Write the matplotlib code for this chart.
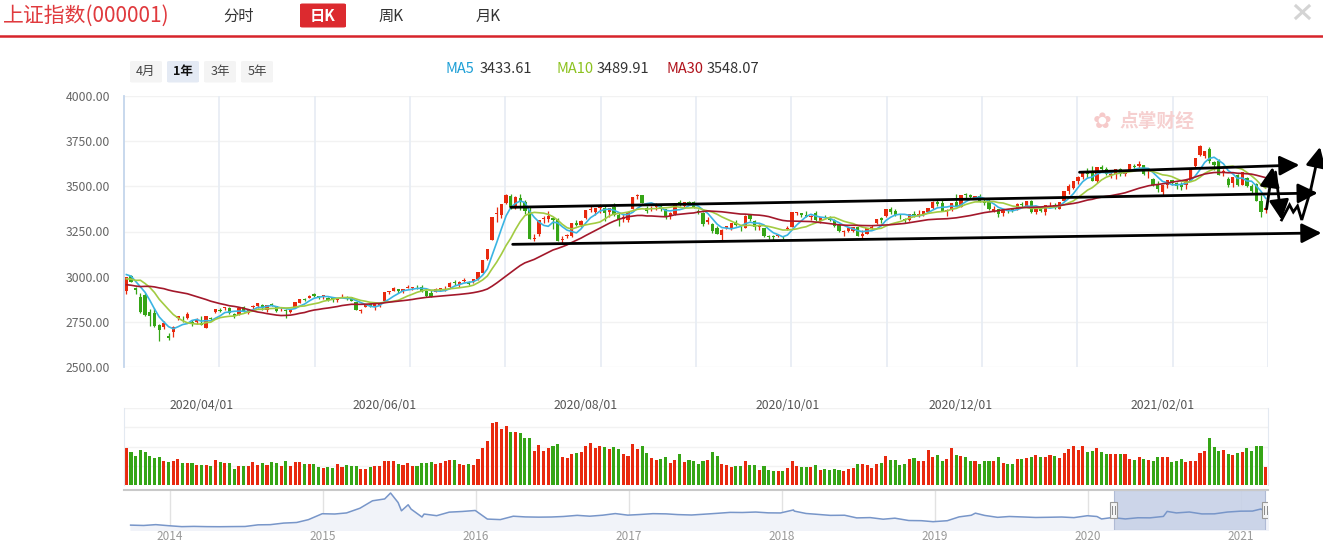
import numpy as np
import pandas as pd
import matplotlib
matplotlib.use("Agg")
import matplotlib.pyplot as plt
from matplotlib.patches import FancyBboxPatch, Rectangle
from matplotlib.transforms import blended_transform_factory

# ---------------- data ----------------
# trading days per month in the 1-year window (2020-03-10 .. 2021-03-10)
month_labels = ["2020/03/01", "2020/04/01", "2020/05/01", "2020/06/01", "2020/07/01", "2020/08/01",
                "2020/09/01", "2020/10/01", "2020/11/01", "2020/12/01", "2021/01/01", "2021/02/01", "2021/03/01"]
month_days = [16, 21, 18, 20, 23, 21, 22, 16, 21, 23, 20, 15, 8]

# closes before the window, only used to warm up the moving averages
prior_closes = [3052.14, 3060.75, 2976.53, 2746.61, 2783.29, 2818.09, 2866.51, 2875.96, 2890.49, 2901.67,
                2926.90, 2906.07, 2917.01, 2983.62, 2984.97, 2975.40, 3030.15, 3039.67, 3031.23, 3013.05,
                2987.93, 2991.33, 2880.30, 2970.93, 2992.90, 3011.67, 3071.68, 3034.51, 2943.29]

closes = [
    2996.76, 2968.52, 2923.49, 2887.43, 2789.25, 2779.64, 2728.76, 2702.13, 2745.62, 2660.17, 2722.44, 2781.59, 2764.91, 2772.20, 2747.21, 2750.30,
    2734.52, 2780.64, 2763.99, 2820.76, 2815.37, 2825.90, 2796.63, 2783.05, 2827.28, 2811.17, 2819.94, 2838.49, 2852.55, 2827.01, 2843.98, 2838.50, 2808.53, 2815.49, 2810.02, 2822.44, 2860.08,
    2878.14, 2871.52, 2895.34, 2894.80, 2891.56, 2898.05, 2870.34, 2868.46, 2875.42, 2898.58, 2883.74, 2867.92, 2813.77, 2817.97, 2846.55, 2836.80, 2846.22, 2852.35,
    2915.43, 2921.40, 2923.37, 2919.25, 2930.80, 2937.77, 2943.75, 2943.32, 2920.90, 2919.74, 2890.03, 2931.75, 2935.87, 2939.32, 2967.63, 2965.27, 2970.62, 2979.55, 2961.52, 2984.67,
    3025.98, 3090.57, 3152.81, 3332.88, 3345.34, 3403.44, 3450.59, 3383.32, 3443.29, 3414.62, 3361.30, 3210.10, 3214.13, 3314.15, 3320.90, 3333.16, 3325.11, 3196.77, 3205.23, 3227.96, 3294.55, 3286.82, 3310.01,
    3367.97, 3371.69, 3377.56, 3386.46, 3354.04, 3379.25, 3340.29, 3319.27, 3320.73, 3360.10, 3438.80, 3451.09, 3408.13, 3363.90, 3380.68, 3385.64, 3373.58, 3329.74, 3350.11, 3403.81, 3395.68,
    3410.61, 3404.80, 3384.98, 3355.37, 3292.59, 3316.42, 3254.63, 3234.82, 3260.35, 3278.81, 3295.68, 3283.92, 3270.44, 3338.09, 3316.94, 3274.30, 3279.71, 3223.18, 3219.42, 3217.53, 3224.36, 3218.05,
    3272.08, 3358.47, 3359.75, 3340.16, 3332.18, 3336.36, 3312.50, 3328.10, 3325.03, 3312.49, 3278.00, 3251.12, 3254.32, 3269.24, 3272.74, 3224.53,
    3225.12, 3271.07, 3277.44, 3320.13, 3312.16, 3373.73, 3360.15, 3342.20, 3338.68, 3310.10, 3346.97, 3339.90, 3347.30, 3363.09, 3377.73, 3414.49, 3402.82, 3362.33, 3369.73, 3408.31, 3391.76,
    3451.94, 3449.38, 3442.14, 3444.58, 3416.60, 3410.18, 3371.96, 3373.28, 3347.19, 3369.12, 3367.23, 3366.98, 3404.87, 3394.90, 3420.57, 3356.78, 3382.32, 3363.11, 3396.56, 3397.29, 3379.04, 3414.45, 3473.07,
    3502.96, 3528.68, 3550.88, 3576.20, 3570.11, 3531.50, 3608.34, 3598.65, 3565.90, 3566.38, 3596.22, 3566.12, 3583.09, 3621.26, 3606.75, 3624.24, 3569.43, 3573.34, 3505.18, 3483.07,
    3505.28, 3533.68, 3517.31, 3501.86, 3496.33, 3532.44, 3603.49, 3655.09, 3675.36, 3696.17, 3642.44, 3636.36, 3564.08, 3585.05, 3509.08,
    3551.40, 3508.59, 3576.91, 3503.49, 3501.99, 3421.41, 3359.29, 3381.86,
]
opens = [
    2918, 3001, 2936, 2804, 2899, 2805, 2797, 2731, 2722, 2673, 2692, 2771, 2763, 2791, 2738, 2764,
    2743, 2718, 2771, 2806, 2810, 2830, 2826, 2794, 2790, 2831, 2800, 2834, 2838, 2843, 2815, 2848, 2835, 2815, 2818, 2807, 2830,
    2857, 2875, 2884, 2904, 2887, 2885, 2883, 2880, 2871, 2896, 2890, 2887, 2861, 2810, 2834, 2846, 2832, 2837,
    2867, 2913, 2936, 2929, 2918, 2942, 2935, 2945, 2943, 2894, 2911, 2915, 2933, 2935, 2944, 2969, 2955, 2977, 2972, 2970,
    2985, 3022, 3097, 3205, 3351, 3343, 3410, 3444, 3393, 3433, 3414, 3371, 3208, 3238, 3321, 3318, 3312, 3318, 3206, 3223, 3225, 3295, 3287,
    3322, 3371, 3358, 3381, 3379, 3359, 3388, 3342, 3331, 3313, 3373, 3444, 3450, 3379, 3376, 3389, 3393, 3372, 3337, 3346, 3412,
    3393, 3411, 3412, 3363, 3353, 3304, 3291, 3270, 3232, 3271, 3268, 3302, 3272, 3270, 3344, 3306, 3275, 3268, 3227, 3225, 3228, 3227,
    3262, 3276, 3355, 3353, 3342, 3332, 3352, 3309, 3333, 3321, 3316, 3284, 3248, 3253, 3254, 3276,
    3236, 3238, 3270, 3296, 3322, 3338, 3377, 3361, 3342, 3319, 3313, 3346, 3341, 3344, 3358, 3382, 3413, 3405, 3362, 3372, 3414,
    3388, 3458, 3450, 3433, 3448, 3417, 3414, 3362, 3374, 3351, 3363, 3373, 3370, 3403, 3393, 3420, 3356, 3384, 3358, 3398, 3399, 3375, 3419,
    3474, 3492, 3528, 3552, 3577, 3576, 3529, 3608, 3597, 3564, 3566, 3597, 3567, 3585, 3613, 3612, 3616, 3574, 3538, 3508,
    3470, 3509, 3535, 3519, 3506, 3505, 3532, 3610, 3721, 3668, 3706, 3616, 3640, 3581, 3539,
    3517, 3564, 3510, 3548, 3476, 3515, 3418, 3371,
]
highs = [
    2997, 3010, 2944, 2910, 2907, 2819, 2824, 2737, 2754, 2690, 2726, 2785, 2784, 2805, 2758, 2769,
    2781, 2782, 2779, 2821, 2825, 2831, 2833, 2797, 2827, 2837, 2819, 2844, 2853, 2846, 2844, 2853, 2838, 2829, 2819, 2823, 2862,
    2879, 2881, 2897, 2907, 2892, 2898, 2888, 2884, 2881, 2903, 2893, 2888, 2862, 2822, 2847, 2852, 2847, 2853,
    2917, 2922, 2942, 2931, 2933, 2953, 2945, 2952, 2952, 2928, 2924, 2935, 2939, 2946, 2968, 2980, 2976, 2990, 2977, 2988,
    3026, 3091, 3152, 3333, 3387, 3404, 3456, 3459, 3444, 3458, 3426, 3393, 3238, 3314, 3334, 3365, 3331, 3323, 3226, 3236, 3294, 3313, 3315,
    3368, 3391, 3378, 3404, 3390, 3379, 3407, 3353, 3346, 3360, 3439, 3455, 3453, 3391, 3391, 3408, 3404, 3377, 3357, 3404, 3425,
    3411, 3420, 3417, 3375, 3359, 3328, 3295, 3279, 3263, 3282, 3296, 3313, 3283, 3339, 3346, 3311, 3290, 3272, 3233, 3232, 3233, 3227,
    3280, 3359, 3360, 3353, 3363, 3343, 3363, 3329, 3341, 3335, 3320, 3291, 3257, 3270, 3276, 3277,
    3257, 3272, 3286, 3320, 3331, 3376, 3388, 3374, 3348, 3325, 3347, 3363, 3370, 3364, 3378, 3419, 3423, 3423, 3372, 3409, 3457,
    3452, 3465, 3457, 3447, 3459, 3428, 3428, 3390, 3376, 3370, 3372, 3377, 3406, 3411, 3421, 3426, 3384, 3386, 3397, 3413, 3407, 3414, 3474,
    3511, 3528, 3556, 3576, 3600, 3611, 3608, 3617, 3609, 3583, 3597, 3600, 3591, 3621, 3622, 3641, 3617, 3594, 3547, 3530,
    3506, 3534, 3536, 3525, 3522, 3533, 3603, 3656, 3731, 3698, 3715, 3640, 3651, 3595, 3549,
    3552, 3568, 3578, 3549, 3511, 3517, 3450, 3391,
]
lows = [
    2902, 2968, 2906, 2799, 2781, 2729, 2724, 2646, 2708, 2647, 2666, 2759, 2751, 2767, 2728, 2740,
    2734, 2716, 2753, 2799, 2802, 2815, 2791, 2773, 2788, 2807, 2793, 2817, 2828, 2816, 2807, 2835, 2805, 2809, 2769, 2797, 2826,
    2853, 2867, 2880, 2886, 2875, 2878, 2867, 2861, 2862, 2887, 2869, 2863, 2813, 2799, 2831, 2830, 2818, 2834,
    2866, 2903, 2920, 2910, 2910, 2935, 2928, 2933, 2916, 2889, 2889, 2913, 2922, 2922, 2938, 2952, 2942, 2970, 2954, 2967,
    2984, 3018, 3094, 3205, 3302, 3327, 3404, 3374, 3375, 3367, 3349, 3208, 3197, 3224, 3297, 3303, 3265, 3196, 3184, 3212, 3220, 3281, 3275,
    3318, 3358, 3340, 3355, 3307, 3330, 3335, 3283, 3305, 3305, 3372, 3431, 3408, 3353, 3362, 3370, 3365, 3321, 3321, 3342, 3391,
    3382, 3397, 3378, 3345, 3279, 3293, 3241, 3234, 3204, 3264, 3259, 3282, 3252, 3269, 3307, 3258, 3261, 3221, 3210, 3203, 3218, 3209,
    3258, 3275, 3340, 3331, 3328, 3313, 3310, 3295, 3322, 3307, 3275, 3245, 3225, 3245, 3245, 3223,
    3209, 3234, 3263, 3293, 3296, 3330, 3349, 3338, 3321, 3296, 3308, 3330, 3333, 3338, 3354, 3376, 3392, 3361, 3338, 3364, 3390,
    3388, 3437, 3435, 3428, 3413, 3399, 3371, 3360, 3328, 3336, 3353, 3358, 3367, 3387, 3386, 3351, 3345, 3356, 3344, 3386, 3376, 3374, 3419,
    3458, 3484, 3513, 3541, 3544, 3527, 3519, 3584, 3564, 3547, 3538, 3556, 3557, 3585, 3588, 3599, 3565, 3546, 3503, 3466,
    3444, 3493, 3505, 3488, 3482, 3483, 3532, 3607, 3666, 3659, 3628, 3589, 3564, 3558, 3496,
    3497, 3503, 3507, 3496, 3464, 3417, 3328, 3352,
]
# volume, read as bar heights (arbitrary units, panel top = 231)
volume = [
    111, 99, 87, 105, 99, 87, 81, 84, 72, 69, 72, 78, 66, 66, 66, 60,
    60, 60, 57, 75, 69, 66, 66, 48, 57, 57, 57, 69, 60, 66, 60, 69, 66, 57, 72, 57, 69,
    69, 63, 63, 63, 54, 51, 54, 51, 63, 54, 60, 57, 57, 48, 48, 54, 57, 57,
    72, 72, 72, 63, 60, 66, 57, 57, 66, 66, 69, 63, 66, 72, 75, 75, 63, 60, 63, 60,
    78, 111, 132, 186, 189, 168, 177, 159, 159, 156, 141, 141, 102, 120, 102, 111, 117, 123, 84, 81, 93, 96, 99,
    117, 126, 111, 117, 114, 108, 114, 108, 93, 87, 123, 108, 117, 97, 81, 75, 78, 84, 66, 75, 93,
    69, 75, 72, 63, 72, 75, 99, 87, 63, 60, 54, 57, 57, 72, 60, 60, 45, 57, 45, 42, 42, 42,
    51, 72, 57, 54, 54, 54, 60, 45, 48, 45, 48, 45, 42, 48, 51, 63,
    63, 60, 51, 63, 66, 87, 75, 75, 60, 63, 78, 81, 72, 72, 105, 84, 90, 72, 78, 111, 90,
    87, 84, 72, 72, 63, 72, 72, 72, 84, 66, 63, 63, 78, 78, 81, 84, 90, 84, 84, 90, 87, 81, 96,
    108, 117, 105, 117, 99, 102, 111, 99, 93, 93, 93, 93, 93, 78, 75, 84, 78, 75, 72, 84,
    84, 84, 69, 72, 78, 69, 72, 72, 96, 102, 141, 114, 102, 105, 93,
    90, 96, 99, 111, 102, 117, 117, 54,
]

ma_periods = [5, 10, 30]
ma_labels = ["MA5", "MA10", "MA30"]

# hand drawn trend lines: (bar index, price) start -> end
trend_lines = [((82.0, 3384), (254.1, 3463)),
               ((82.4, 3179), (254.9, 3242)),
               ((203.3, 3578), (250.2, 3618))]
zig_arrows = [((243.2, 3375), (244.5, 3607)),
              ((245.1, 3579), (246.4, 3314))]
zig_path_x = [246.4, 248.1, 248.9, 249.8, 250.7, 252.6, 254.6]
zig_path_y = [3314, 3397, 3358, 3391, 3314, 3480, 3718]

# navigator: long history of the index
nav_dates = ["2013-09-30", "2013-10-31", "2013-11-29", "2013-12-31",
             "2014-01-30", "2014-02-28", "2014-03-31", "2014-04-30", "2014-05-30", "2014-06-30", "2014-07-31", "2014-08-29",
             "2014-09-30", "2014-10-31", "2014-11-28", "2014-12-31",
             "2015-01-30", "2015-02-27", "2015-03-31", "2015-04-30", "2015-05-29", "2015-06-12", "2015-06-30", "2015-07-08",
             "2015-07-24", "2015-07-31", "2015-08-26", "2015-08-31", "2015-09-30", "2015-10-30", "2015-11-30", "2015-12-31",
             "2016-01-29", "2016-02-29", "2016-03-31", "2016-04-29", "2016-05-31", "2016-06-30", "2016-07-29", "2016-08-31",
             "2016-09-30", "2016-10-31", "2016-11-30", "2016-12-30",
             "2017-01-26", "2017-02-28", "2017-03-31", "2017-04-28", "2017-05-31", "2017-06-30", "2017-07-31", "2017-08-31",
             "2017-09-29", "2017-10-31", "2017-11-30", "2017-12-29",
             "2018-01-29", "2018-01-31", "2018-02-28", "2018-03-30", "2018-04-27", "2018-05-31", "2018-06-29", "2018-07-31",
             "2018-08-31", "2018-09-28", "2018-10-31", "2018-11-30", "2018-12-28",
             "2019-01-31", "2019-02-28", "2019-03-29", "2019-04-08", "2019-04-30", "2019-05-31", "2019-06-28", "2019-07-31",
             "2019-08-30", "2019-09-30", "2019-10-31", "2019-11-29", "2019-12-31",
             "2020-01-23", "2020-02-03", "2020-02-28", "2020-03-31", "2020-04-30", "2020-05-29", "2020-06-30", "2020-07-09",
             "2020-07-31", "2020-08-31", "2020-09-30", "2020-10-30", "2020-11-30", "2020-12-31",
             "2021-01-29", "2021-02-18", "2021-02-26", "2021-03-10"]
nav_values = [2174, 2141, 2220, 2116,
              2033, 2056, 2033, 2026, 2039, 2048, 2201, 2217, 2364, 2420, 2683, 3235,
              3210, 3310, 3748, 4441, 4612, 5166, 4277, 3507, 4070, 3664, 2927, 3206, 3053, 3383, 3445, 3539,
              2738, 2688, 3004, 2938, 2917, 2930, 2979, 3085, 3005, 3100, 3250, 3104,
              3159, 3242, 3223, 3155, 3117, 3192, 3273, 3361, 3349, 3393, 3317, 3307,
              3587, 3481, 3259, 3169, 3082, 3095, 2847, 2876, 2725, 2821, 2603, 2588, 2494,
              2585, 2941, 3091, 3289, 3078, 2899, 2979, 2933, 2886, 2905, 2929, 2872, 3050,
              2977, 2747, 2880, 2750, 2860, 2852, 2985, 3451, 3310, 3396, 3218, 3225, 3392, 3473,
              3483, 3675, 3509, 3382]
nav_years = list(range(2014, 2022))
nav_window = ("2020-03-03", "2021-03-01")

RED = "#e8290e"
GREEN = "#35a516"
MA_COLORS = ["#3ab4e2", "#a2cb42", "#a3182b"]
MA_TEXT_COLORS = ["#1d9fd6", "#8cc21f", "#b0121b"]


def decimal_year(dates):
    d = pd.to_datetime(pd.Series(dates))
    days = np.where(d.dt.is_leap_year, 366, 365)
    return (d.dt.year + (d.dt.dayofyear - 1) / days).values


def main():
    W, H = 1323, 546
    fig = plt.figure(figsize=(W / 100, H / 100), dpi=100)
    fig.patch.set_facecolor("white")
    plt.rcParams["font.family"] = ["Noto Sans CJK SC", "DejaVu Sans"]

    def rect(x0, y0, x1, y1):
        # pixel box (top-left origin) -> figure fraction [l, b, w, h]
        return [x0 / W, 1 - y1 / H, (x1 - x0) / W, (y1 - y0) / H]

    def fx(px):
        return px / W

    def fy(py):
        return 1 - py / H

    o = np.array(opens, float)
    c = np.array(closes, float)
    hi = np.maximum(np.array(highs, float), np.maximum(o, c))
    lo = np.minimum(np.array(lows, float), np.minimum(o, c))
    n = len(c)
    x = np.arange(n)
    prev = np.concatenate([[prior_closes[-1]], c[:-1]])
    cols = np.where(c >= prev, RED, GREEN)

    # ---------- header ----------
    fig.text(fx(3), fy(16), "上证指数(000001)", fontsize=15, color="#e03a3e", va="center", ha="left")
    fig.text(fx(239), fy(16), "分时", fontsize=11, color="#333333", va="center", ha="center")
    fig.add_artist(FancyBboxPatch((fx(300), fy(27.5)), fx(46), 24 / H, boxstyle="round,pad=0,rounding_size=0.002",
                                  transform=fig.transFigure, facecolor="#dc2a2f", edgecolor="none"))
    fig.text(fx(323), fy(16), "日K", fontsize=11, color="white", va="center", ha="center", fontweight="bold")
    fig.text(fx(391), fy(16), "周K", fontsize=11, color="#333333", va="center", ha="center")
    fig.text(fx(488), fy(16), "月K", fontsize=11, color="#333333", va="center", ha="center")
    fig.add_artist(plt.Line2D([0, 1], [fy(36), fy(36)], color="#d7242b", lw=1.8, transform=fig.transFigure))
    for xa, xb, ya, yb in [(1296, 1309, 6, 18), (1296, 1309, 18, 6)]:
        fig.add_artist(plt.Line2D([fx(xa), fx(xb)], [fy(ya), fy(yb)], color="#d4d4d4", lw=2.2,
                                  transform=fig.transFigure))

    # range buttons
    for label, x0, active in [("4月", 130, False), ("1年", 167, True), ("3年", 204, False), ("5年", 241, False)]:
        fig.add_artist(FancyBboxPatch((fx(x0), fy(82.5)), fx(32), 21.5 / H, boxstyle="round,pad=0,rounding_size=0.002",
                                      transform=fig.transFigure, edgecolor="none",
                                      facecolor="#e4eaf4" if active else "#f4f4f4"))
        fig.text(fx(x0 + 16), fy(71.5), label, fontsize=9, ha="center", va="center",
                 color="#111111" if active else "#444444", fontweight="bold" if active else "normal")

    # ---------- main candle chart ----------
    ax = fig.add_axes(rect(124, 96, 1268, 367))
    ax.set_xlim(-0.5, n - 0.5)
    ax.set_ylim(2500, 4000)
    yt = np.arange(2500, 4001, 250)
    ax.set_yticks(yt)
    ax.set_yticklabels([f"{v:.2f}" for v in yt])
    ax.set_xticks([])
    ax.tick_params(axis="y", length=0, labelsize=8.8, labelcolor="#666666", pad=10)
    for v in yt:
        ax.axhline(v, color="#f2f2f2", lw=1, zorder=0)
    for k in range(1, 13):
        ax.axvline(-0.5 + k * n / 12, color="#e8edf4", lw=1.3, zorder=0)
    for s in ["top", "right", "bottom"]:
        ax.spines[s].set_visible(False)
    ax.spines["left"].set_color("#c4d6ec")
    ax.spines["left"].set_linewidth(1.3)

    ax.vlines(x, lo, hi, colors=cols, lw=0.9, zorder=2)
    body = np.maximum(np.abs(c - o), 1.5)
    ax.bar(x, body, bottom=np.minimum(o, c), width=0.7, color=cols, linewidth=0, zorder=3)

    full = pd.Series(np.concatenate([prior_closes, c]))
    ma_last = []
    for p, col in zip(ma_periods, MA_COLORS):
        ma = full.rolling(p).mean().values[len(prior_closes):]
        ax.plot(x, ma, color=col, lw=1.2, zorder=4)
        ma_last.append(ma[-1])

    # watermark
    ax.text(0.903, 0.905, "点掌财经", transform=ax.transAxes, fontsize=13.5, fontweight="bold",
            color="#f6d0d0", ha="center", va="center", zorder=1)
    ax.text(0.855, 0.905, "✿", transform=ax.transAxes, fontsize=16, family="DejaVu Sans",
            color="#f6caca", ha="center", va="center", zorder=1)

    # MA legend
    lx = [446, 556, 666]
    for lab, val, tc, x0 in zip(ma_labels, ma_last, MA_TEXT_COLORS, lx):
        fig.text(fx(x0), fy(69), lab, fontsize=10.5, color=tc, va="center", ha="left")
        fig.text(fx(x0 + (34 if lab == "MA5" else 41)), fy(69), f"{val:.2f}", fontsize=10.5,
                 color="#333333", va="center", ha="left")

    # trend lines drawn on top
    arrow_kw = dict(arrowstyle="-|>,head_length=1.0,head_width=0.5", color="black", lw=2.0,
                    mutation_scale=12, shrinkA=0, shrinkB=0)
    for (x0, y0), (x1, y1) in trend_lines + zig_arrows:
        ax.annotate("", xy=(x1, y1), xytext=(x0, y0), arrowprops=arrow_kw, annotation_clip=False, zorder=6)
    ax.plot(zig_path_x[:-1], zig_path_y[:-1], color="black", lw=2.0, clip_on=False, zorder=6,
            solid_joinstyle="miter")
    ax.annotate("", xy=(zig_path_x[-1], zig_path_y[-1]), xytext=(zig_path_x[-2], zig_path_y[-2]),
                arrowprops=arrow_kw, annotation_clip=False, zorder=6)

    # ---------- volume ----------
    axv = fig.add_axes(rect(124, 408, 1268, 485))
    axv.set_xlim(-0.5, n - 0.5)
    axv.set_ylim(0, 231)
    for v in [57.75, 115.5, 173.25, 231]:
        axv.axhline(v, color="#f2f2f2", lw=1, zorder=0)
    axv.bar(x, volume, width=0.66, color=cols, linewidth=0, zorder=2)
    axv.set_xticks([])
    axv.set_yticks([])
    for s in ["top", "bottom"]:
        axv.spines[s].set_visible(False)
    for s in ["left", "right"]:
        axv.spines[s].set_color("#e3e9f1")
    starts = np.concatenate([[0], np.cumsum(month_days)[:-1]])
    tr = blended_transform_factory(axv.transData, axv.transAxes)
    for i in range(1, len(month_labels), 2):
        axv.text(starts[i], 1.03, month_labels[i], transform=tr, ha="center", va="center",
                 fontsize=8.8, color="#555555")

    # ---------- navigator ----------
    axn = fig.add_axes(rect(124, 490, 1268, 530))
    nx = decimal_year(nav_dates)
    axn.set_xlim(2013.702, 2021.178)
    axn.set_ylim(1720, 5445)
    for yv in nav_years:
        axn.axvline(yv, color="#e2e2e2", lw=1, zorder=0)
    axn.fill_between(nx, nav_values, 1720, color="#f1f3f9", zorder=1)
    w0, w1 = decimal_year(list(nav_window))
    axn.add_patch(Rectangle((w0, 1720), w1 - w0, 5445 - 1720, facecolor="#c7d1e7", alpha=0.9,
                            edgecolor="#aab6d2", lw=0.8, zorder=2))
    axn.plot(nx, nav_values, color="#7896c9", lw=1.1, zorder=3)
    trn = blended_transform_factory(axn.transData, axn.transAxes)
    for hx in [w0, w1]:
        axn.add_patch(Rectangle((hx - 0.025, 0.31), 0.05, 0.38, transform=trn, facecolor="#f5f5f5",
                                edgecolor="#999999", lw=0.8, zorder=4))
        for dx in [-0.008, 0.008]:
            axn.plot([hx + dx, hx + dx], [0.4, 0.6], transform=trn, color="#888888", lw=0.7, zorder=5)
    axn.set_xticks([])
    axn.set_yticks([])
    for s in ["left", "right", "bottom"]:
        axn.spines[s].set_visible(False)
    axn.spines["top"].set_color("#c9c9c9")
    axn.spines["top"].set_linewidth(1.5)
    for yv in nav_years:
        axn.text(yv, -0.17, str(yv), transform=trn, ha="center", va="center", fontsize=8.5, color="#999999")

    fig.savefig("out.png", dpi=100)
    plt.close(fig)


if __name__ == "__main__":
    main()
